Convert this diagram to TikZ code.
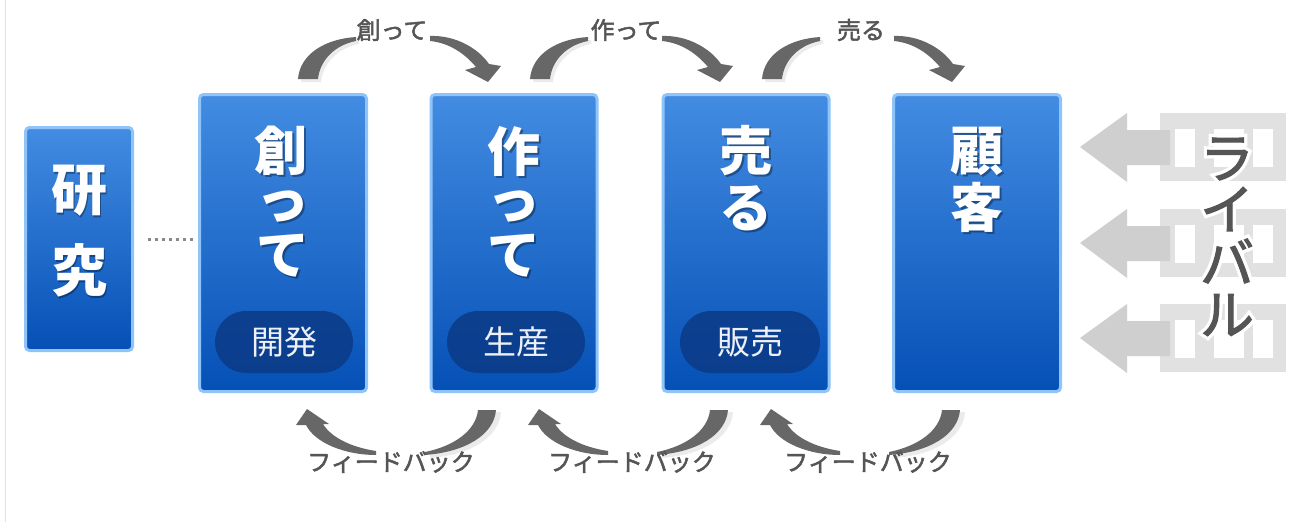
\documentclass[tikz,border=0pt]{standalone}
\usepackage{fontspec}
\newfontfamily\jp{Noto Sans CJK JP}
\newfontfamily\jpmed[FakeBold=2]{Noto Sans CJK JP}
\newfontfamily\jphalo[FakeBold=14]{Noto Sans CJK JP}
\definecolor{boxtop}{HTML}{438CE2}
\definecolor{boxbot}{HTML}{0550B6}
\definecolor{boxedge}{HTML}{8EC4F7}
\definecolor{pillc}{HTML}{0B3A86}
\definecolor{arrowc}{HTML}{676767}
\definecolor{labelc}{HTML}{555555}
\definecolor{rivalA}{HTML}{CFCFCF}
\definecolor{rivalB}{HTML}{E1E1E1}
\definecolor{framec}{HTML}{E2E2E2}
\definecolor{dotc}{HTML}{8A8A8A}
\tikzset{
  stagebox/.style={draw=boxedge, line width=3pt, rounded corners=4pt,
    top color=boxtop, bottom color=boxbot, inner sep=0pt},
  bigchar/.style={text=white, inner sep=-1pt},
  charshadow/.style={text=black, text opacity=0.35, inner sep=-3pt},
  pill/.style={fill=pillc, fill opacity=0.85, text opacity=0.93, rounded corners=31pt,
    minimum width=138pt, minimum height=62pt, text=white, inner sep=0pt,
    font=\jp\fontsize{33}{33}\selectfont},
  arcarrow/.style={fill=arrowc},
  arcshadow/.style={fill=black, fill opacity=0.08},
  smalllabel/.style={text=labelc, inner sep=1pt, font=\jpmed\fontsize{24}{24}\selectfont},
  rivalhalo/.style={text=white, inner sep=0pt, font=\jphalo\fontsize{54}{54}\selectfont},
  rivaltext/.style={text=labelc, inner sep=0pt, font=\jpmed\fontsize{54}{54}\selectfont},
  rivalarrow/.style={fill=rivalA},
  rivalhouse/.style={fill=rivalB},
  rivalwin/.style={fill=white},
  leader/.style={draw=dotc, line width=3pt, dash pattern=on 3pt off 4pt},
}
\newcommand\stagechar[5]{%
  \node[charshadow, font=\jp\bfseries\fontsize{#5}{#5}\selectfont] (#1s) at (#2+1.5,#3+2) {#4};
  \node[bigchar, font=\jp\bfseries\fontsize{#5}{#5}\selectfont] (#1) at (#2,#3) {#4};}
\begin{document}
\begin{tikzpicture}[x=1pt,y=-1pt]
\useasboundingbox (0,0) rectangle (1295,522);
\fill[white] (0,0) rectangle (1295,522);
\draw[framec, line width=1pt] (5,0) -- (5,522);

% stage boxes
\node[stagebox, minimum width=107pt, minimum height=223pt] (b0) at (79,239) {};
\node[stagebox, minimum width=167pt, minimum height=297pt] (b1) at (283,243) {};
\node[stagebox, minimum width=166pt, minimum height=297pt] (b2) at (514,243) {};
\node[stagebox, minimum width=166pt, minimum height=297pt] (b3) at (746,243) {};
\node[stagebox, minimum width=167pt, minimum height=297pt] (b4) at (977,243) {};

% box texts
\stagechar{c01}{79}{191}{研}{56}
\stagechar{c02}{79}{270}{究}{56}
\stagechar{c11}{281}{151}{創}{53}
\stagechar{c12}{283}{207}{っ}{53}
\stagechar{c13}{283}{256}{て}{53}
\stagechar{c21}{514}{151}{作}{53}
\stagechar{c22}{514}{207}{っ}{53}
\stagechar{c23}{514}{256}{て}{53}
\stagechar{c31}{746}{151}{売}{53}
\stagechar{c32}{746}{208}{る}{53}
\stagechar{c41}{977}{151}{顧}{53}
\stagechar{c42}{977}{207}{客}{53}

% pills
\node[pill] (p1) at (284,342) {開発};
\node[pill] (p2) at (516,342) {生産};
\node[pill, minimum width=140pt] (p3) at (750,342) {販売};

% dotted leader between research and first stage
\coordinate (d0) at (148,239);
\coordinate (d1) at (196,239);
\draw[leader] (d0) -- (d1);

% top curved arrows
\foreach \dx in {0,232,464} {
  \begin{scope}[shift={(\dx,0)}]
    \fill[arcshadow] (301,82) .. controls (303,57) and (328,42) .. (359,40)
      -- (359,44) .. controls (338,48) and (323,63) .. (321,82) -- cycle;
    \fill[arcarrow] (298,79) .. controls (300,54) and (325,39) .. (356,37)
      -- (356,41) .. controls (335,45) and (320,60) .. (318,79) -- cycle;
    \fill[arcarrow] (430,36) .. controls (455,35) and (478,48) .. (489,64)
      -- (501,66) -- (488,82) -- (465,70) -- (476,67)
      .. controls (465,54) and (450,43) .. (430,41) -- cycle;
  \end{scope}
}
\node[smalllabel] (t1) at (392,30) {創って};
\node[smalllabel] (t2) at (626,30) {作って};
\node[smalllabel] (t3) at (861,30) {売る};

% bottom curved arrows (feedback)
\foreach \dx in {0,232,464} {
  \begin{scope}[shift={(\dx,0)}]
    \fill[arcshadow] (482,412) -- (501,412) .. controls (499,438) and (470,455) .. (430,458)
      -- (430,455) .. controls (460,449) and (480,433) .. (482,412) -- cycle;
    \fill[arcarrow] (478,410) -- (496,410) .. controls (494,435) and (465,452) .. (425,455)
      -- (425,452) .. controls (455,446) and (476,430) .. (478,410) -- cycle;
    \fill[arcarrow] (376,451) .. controls (350,447) and (331,437) .. (323,424)
      -- (329,424) -- (307,409) -- (296,425) -- (306,425)
      .. controls (315,443) and (345,455) .. (376,455) -- cycle;
  \end{scope}
}
\node[smalllabel] (f1) at (391,462) {フィードバック};
\node[smalllabel] (f2) at (632,462) {フィードバック};
\node[smalllabel] (f3) at (868,462) {フィードバック};

% rivals
\foreach \cy [count=\k] in {147,243,338} {
  \fill[rivalhouse] (1160,\cy-34) rectangle (1286,\cy+34);
  \fill[rivalwin] (1175,\cy-18) rectangle (1195,\cy+20);
  \fill[rivalwin] (1214,\cy-18) rectangle (1244,\cy+20);
  \fill[rivalwin] (1253,\cy-18) rectangle (1273,\cy+20);
  \fill[rivalarrow] (1080,\cy) -- (1127,\cy-34) -- (1127,\cy-17) -- (1170,\cy-17)
    -- (1170,\cy+18) -- (1127,\cy+18) -- (1127,\cy+35) -- cycle;
}
\foreach \c/\cy [count=\j] in {ラ/159,イ/209,バ/261,ル/315} {
  \node[rivalhalo] (h\j) at (1227,\cy) {\c};
  \node[rivaltext] (r\j) at (1227,\cy) {\c};
}
\end{tikzpicture}
\end{document}
